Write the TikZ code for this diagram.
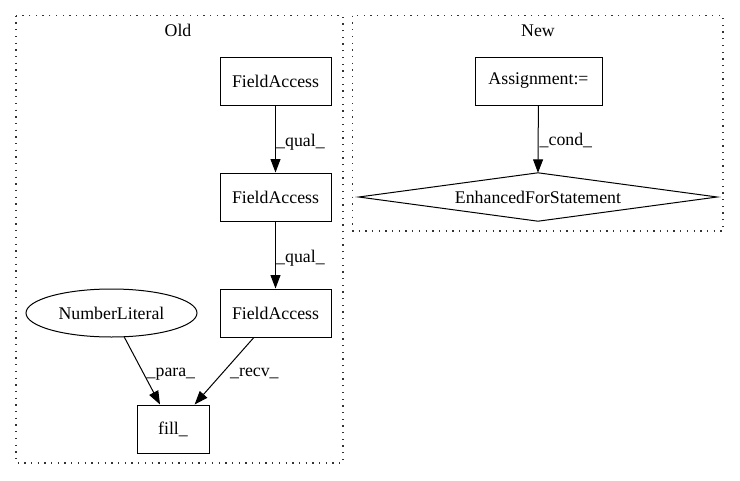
\documentclass[tikz,border=0pt]{standalone}
\usepackage{fontspec}
\setmainfont{Liberation Serif}
\usetikzlibrary{arrows.meta,shapes.geometric}
\begin{document}
\begin{tikzpicture}[x=1pt,y=-1pt,
  every node/.style={font=\fontsize{17.8}{21}\selectfont},
  box/.style={draw,line width=1pt,rectangle,inner sep=0pt,minimum height=48pt},
  ell/.style={draw,line width=1pt,ellipse,inner sep=0pt,minimum width=171pt,minimum height=48pt},
  edge/.style={line width=1pt,-{Triangle[length=13.5pt,width=10pt]}},
  lbl/.style={inner sep=0pt,anchor=base west},
  cluster/.style={line width=1.3pt,dash pattern=on 1.3pt off 5.4pt,black!80},
  clabel/.style={inner sep=0pt,anchor=base}]
\useasboundingbox (0,0) rectangle (740,480);
% clusters
\draw[cluster] (16,15.7) rectangle (343,463);
\draw[cluster] (352.7,15.7) rectangle (723,231);
\node[clabel] (old) at (178,36) {Old};
\node[clabel] (new) at (538,36) {New};
% Old nodes
\node[box,minimum width=111pt] (fa1) at (275.5,81) {FieldAccess};
\node[box,minimum width=111pt] (fa2) at (275.5,197) {FieldAccess};
\node[box,minimum width=111pt] (fa3) at (275.5,313) {FieldAccess};
\node[ell] (nl) at (111.5,313) {NumberLiteral};
\node[box,minimum width=72pt] (fill) at (173,429) {fill\_};
% New nodes
\node[box,minimum width=127pt] (asg) at (538.5,81) {Assignment:=};
\node[inner sep=0pt,minimum width=358pt,minimum height=48pt] (efs) at (538,197) {EnhancedForStatement};
\draw[line width=1pt] (efs.west) -- (efs.north) -- (efs.east) -- (efs.south) -- cycle;
% edges
\draw[edge] (fa1) -- (fa2);
\draw[edge] (fa2) -- (fa3);
\draw[edge] (nl) -- (fill);
\draw[edge] (fa3) -- (fill);
\draw[edge] (asg) -- (efs.north);
% labels
\node[lbl] (l1) at (276,146) {\_qual\_};
\node[lbl] (l2) at (276,262) {\_qual\_};
\node[lbl] (l3) at (146.5,376) {\_para\_};
\node[lbl] (l4) at (230,376) {\_recv\_};
\node[lbl] (l5) at (539.5,145) {\_cond\_};
\end{tikzpicture}
\end{document}
